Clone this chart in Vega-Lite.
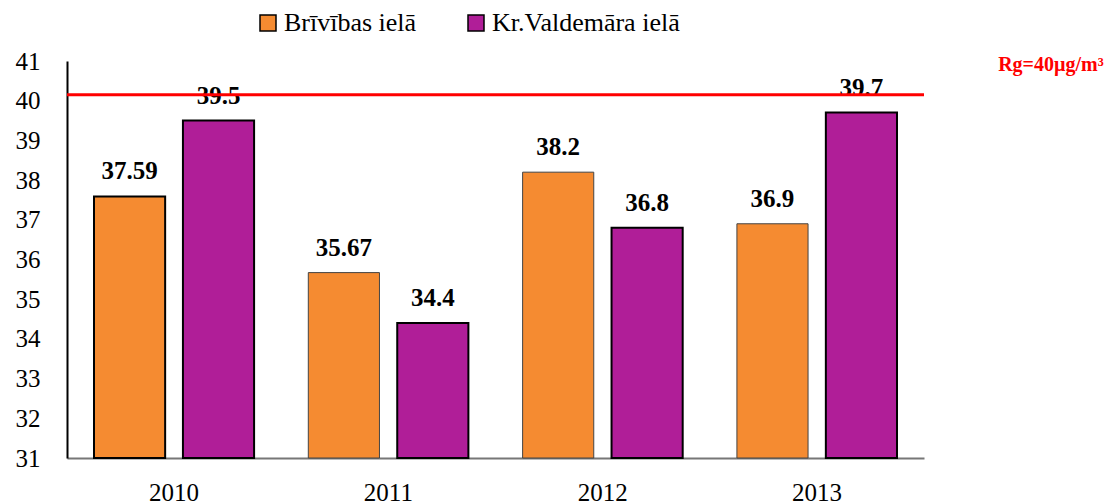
{
  "$schema": "https://vega.github.io/schema/vega-lite/v6.json",
  "width": 857,
  "height": 397,
  "autosize": {"type": "none"},
  "padding": {"left": 67, "top": 61, "right": 187, "bottom": 43},
  "background": "white",
  "config": {
    "view": {"stroke": null},
    "font": "Times New Roman, Liberation Serif, serif",
    "text": {"font": "Times New Roman, Liberation Serif, serif"},
    "legend": {"labelFont": "Times New Roman, Liberation Serif, serif"},
    "axis": {"labelFont": "Times New Roman, Liberation Serif, serif", "labelOverlap": false},
    "axisY": {"labelOverlap": false}
  },
  "datasets": {
    "bars": [
      {"year": "2010", "series": "Brīvības ielā", "value": 37.59},
      {"year": "2010", "series": "Kr.Valdemāra ielā", "value": 39.5},
      {"year": "2011", "series": "Brīvības ielā", "value": 35.67},
      {"year": "2011", "series": "Kr.Valdemāra ielā", "value": 34.4},
      {"year": "2012", "series": "Brīvības ielā", "value": 38.2},
      {"year": "2012", "series": "Kr.Valdemāra ielā", "value": 36.8},
      {"year": "2013", "series": "Brīvības ielā", "value": 36.9},
      {"year": "2013", "series": "Kr.Valdemāra ielā", "value": 39.7}
    ],
    "limit": [{"limit": 40.15, "label": "Rg=40µg/m³", "year": "2013"}]
  },
  "layer": [
    {
      "data": {"name": "bars"},
      "mark": {"type": "bar"},
      "encoding": {
        "x": {
          "field": "year", "type": "nominal",
          "scale": {"paddingInner": 0.253, "paddingOuter": 0.126},
          "axis": {"title": null, "labelAngle": 0, "ticks": false, "labelPadding": 22, "labelFontSize": 25, "labelColor": "black", "domainColor": "#777777", "domainWidth": 2}
        },
        "xOffset": {"field": "series", "type": "nominal", "scale": {"paddingInner": 0.2, "paddingOuter": 0}},
        "y": {
          "field": "value", "type": "quantitative",
          "scale": {"domain": [31, 41], "zero": false, "nice": false},
          "axis": {"title": null, "values": [31, 32, 33, 34, 35, 36, 37, 38, 39, 40, 41], "labelOverlap": false, "ticks": false, "grid": false, "labelPadding": 27, "labelFontSize": 25, "labelColor": "black", "domainColor": "black", "domainWidth": 2}
        },
        "y2": {"datum": 31},
        "color": {
          "field": "series", "type": "nominal",
          "scale": {"domain": ["Brīvības ielā", "Kr.Valdemāra ielā"], "range": ["#F58B31", "#B01E98"]},
          "legend": {
            "title": null, "orient": "none", "legendX": 188, "legendY": -51, "direction": "horizontal",
            "symbolType": "square", "symbolSize": 256, "symbolStrokeColor": "black", "symbolStrokeWidth": 1.5,
            "labelFontSize": 26, "labelColor": "black", "labelLimit": 400, "columnPadding": 46, "labelOffset": 3
          }
        },
        "stroke": {"condition": {"test": "datum.series === 'Brīvības ielā' && datum.year !== '2010'", "value": "#444444"}, "value": "black"},
        "strokeWidth": {"condition": {"test": "datum.series === 'Brīvības ielā' && datum.year !== '2010'", "value": 1}, "value": 2}
      }
    },
    {
      "data": {"name": "bars"},
      "mark": {"type": "text", "dy": -17, "baseline": "alphabetic", "fontSize": 25, "fontWeight": "bold", "color": "black"},
      "encoding": {
        "x": {"field": "year", "type": "nominal"},
        "xOffset": {"field": "series", "type": "nominal"},
        "y": {"field": "value", "type": "quantitative", "axis": {"title": null, "values": [31, 32, 33, 34, 35, 36, 37, 38, 39, 40, 41], "labelOverlap": false, "ticks": false, "grid": false, "labelPadding": 27, "labelFontSize": 25, "labelColor": "black", "domainColor": "black", "domainWidth": 2}},
        "text": {"field": "value", "type": "quantitative"}
      }
    },
    {
      "data": {"name": "limit"},
      "mark": {"type": "rule", "color": "#FF0000", "strokeWidth": 3},
      "encoding": {
        "y": {"field": "limit", "type": "quantitative", "axis": {"title": null, "values": [31, 32, 33, 34, 35, 36, 37, 38, 39, 40, 41], "labelOverlap": false, "ticks": false, "grid": false, "labelPadding": 27, "labelFontSize": 25, "labelColor": "black", "domainColor": "black", "domainWidth": 2}}
      }
    },
    {
      "data": {"name": "limit"},
      "mark": {"type": "text", "dx": 234, "dy": -30, "baseline": "middle", "align": "center", "fontSize": 20, "fontWeight": "bold", "color": "#FF0000"},
      "encoding": {
        "x": {"field": "year", "type": "nominal"},
        "y": {"field": "limit", "type": "quantitative", "axis": {"title": null, "values": [31, 32, 33, 34, 35, 36, 37, 38, 39, 40, 41], "labelOverlap": false, "ticks": false, "grid": false, "labelPadding": 27, "labelFontSize": 25, "labelColor": "black", "domainColor": "black", "domainWidth": 2}},
        "text": {"field": "label"}
      }
    }
  ]
}
